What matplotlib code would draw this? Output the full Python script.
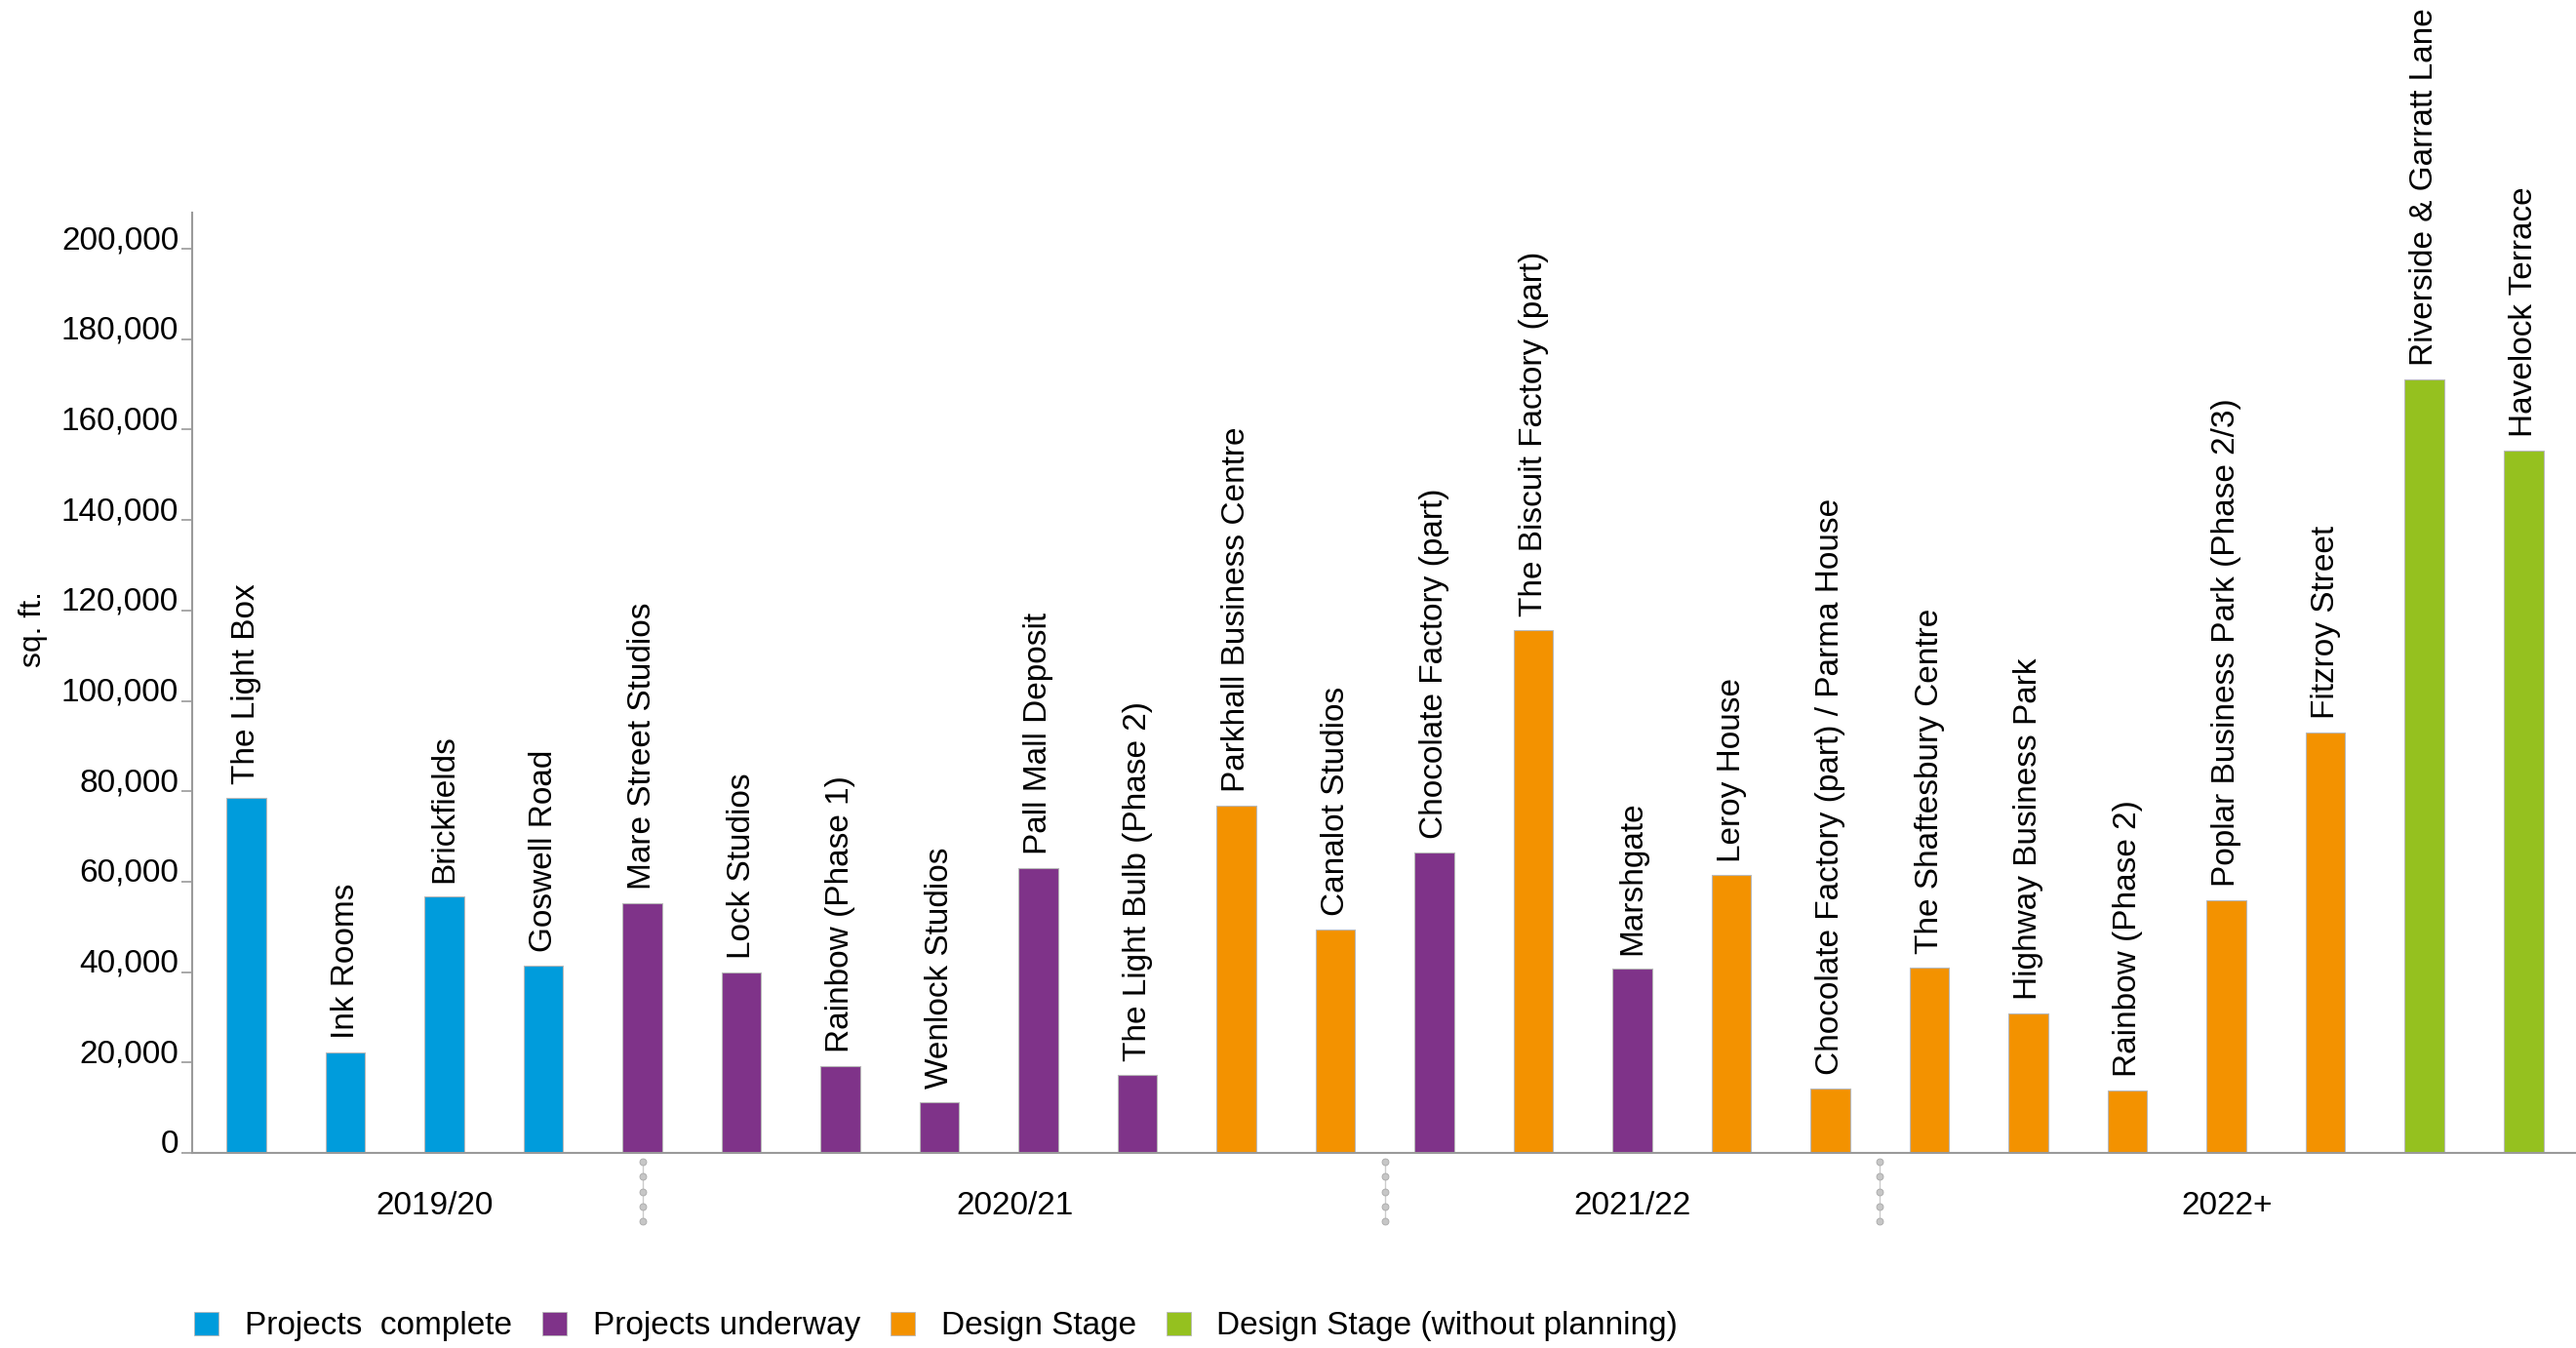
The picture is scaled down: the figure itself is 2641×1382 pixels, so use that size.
import matplotlib
matplotlib.use("Agg")
from matplotlib import pyplot as plt
from matplotlib.patches import Patch
from matplotlib.ticker import FuncFormatter
from matplotlib.transforms import blended_transform_factory
import numpy as np

plt.rcParams['font.family'] = ['Liberation Sans', 'DejaVu Sans']

# projects along the x axis, left to right
projects = [
    "The Light Box", "Ink Rooms", "Brickfields", "Goswell Road",
    "Mare Street Studios", "Lock Studios", "Rainbow (Phase 1)", "Wenlock Studios",
    "Pall Mall Deposit", "The Light Bulb (Phase 2)", "Parkhall Business Centre",
    "Canalot Studios", "Chocolate Factory (part)", "The Biscuit Factory (part)",
    "Marshgate", "Leroy House", "Chocolate Factory (part) / Parma House",
    "The Shaftesbury Centre", "Highway Business Park", "Rainbow (Phase 2)",
    "Poplar Business Park (Phase 2/3)", "Fitzroy Street",
    "Riverside & Garratt Lane", "Havelock Terrace",
]
# floor area, sq. ft.
areas = [
    78500, 22200, 56700, 41400,
    55300, 40000, 19200, 11200,
    63000, 17200, 76900,
    49400, 66400, 115700,
    40700, 61400, 14200,
    41100, 30900, 13800,
    55900, 93000,
    171100, 155300,
]
# 0 complete, 1 underway, 2 design stage, 3 design stage without planning
stages = [0, 0, 0, 0, 1, 1, 1, 1, 1, 1, 2, 2, 1, 2, 1, 2, 2, 2, 2, 2, 2, 2, 3, 3]

stage_names = ["Projects  complete", "Projects underway", "Design Stage",
               "Design Stage (without planning)"]
stage_colors = ["#009cdc", "#7f3389", "#f39200", "#95c11f"]

periods = ["2019/20", "2020/21", "2021/22", "2022+"]
period_pos = [1.9, 7.76, 14.0, 20.0]
period_breaks = [4, 11.5, 16.5]

fig = plt.figure(figsize=(26.41, 13.82), dpi=100)
ax = fig.add_axes([0.0746, 0.1447, 0.9254, 0.6976])

x = np.arange(len(projects))
colors = [stage_colors[s] for s in stages]
ax.bar(x, areas, width=0.4, color=colors, edgecolor='#b8b8b8', linewidth=0.8)

ax.set_xlim(-0.548, 23.53)
ax.set_ylim(0, 208000)
ax.set_yticks(np.arange(0, 200001, 20000))
ax.yaxis.set_major_formatter(FuncFormatter(lambda v, p: f"{v:,.0f}"))
ax.set_xticks([])

for sp in ['top', 'right']:
    ax.spines[sp].set_visible(False)
for sp in ['left', 'bottom']:
    ax.spines[sp].set_color('#9a9a9a')
    ax.spines[sp].set_linewidth(1.5)

ax.tick_params(axis='y', length=8, width=1.2, color='#9a9a9a', pad=2, labelsize=24)
plt.setp(ax.get_yticklabels(), va='baseline')

# names above the bars
for xi, a, name in zip(x, areas, projects):
    ax.annotate(name, (xi, a), xytext=(0, 10), textcoords='offset points',
                rotation=90, ha='center', va='bottom', fontsize=24,
                annotation_clip=False)

# dotted period separators and period names under the axis
trans = blended_transform_factory(ax.transData, fig.transFigure)
dot_y = np.linspace(0.1382, 0.0938, 5)
for b in period_breaks:
    ax.plot([b] * 5, dot_y, transform=trans, color='#cccccc', lw=1,
            marker='o', ms=5, mfc='#c6c6c6', mec='#a8a8a8', mew=0.6,
            clip_on=False)
for p, name in zip(period_pos, periods):
    ax.text(p, 0.1055, name, transform=trans, ha='center', va='center', fontsize=24)

fig.text(34 / 2641, 1 - 645 / 1382, "sq. ft.", rotation=90, ha='center',
         va='center', fontsize=23)

handles = [Patch(facecolor=c, edgecolor='#b8b8b8', linewidth=0.6) for c in stage_colors]
fig.legend(handles, stage_names, loc='center left', bbox_to_anchor=(0.0755, 0.0160),
           ncol=4, frameon=False, fontsize=24, handlelength=0.75, handleheight=0.75,
           handletextpad=0.8, columnspacing=0.93, borderpad=0, borderaxespad=0)

fig.savefig('out.png', dpi=100)
